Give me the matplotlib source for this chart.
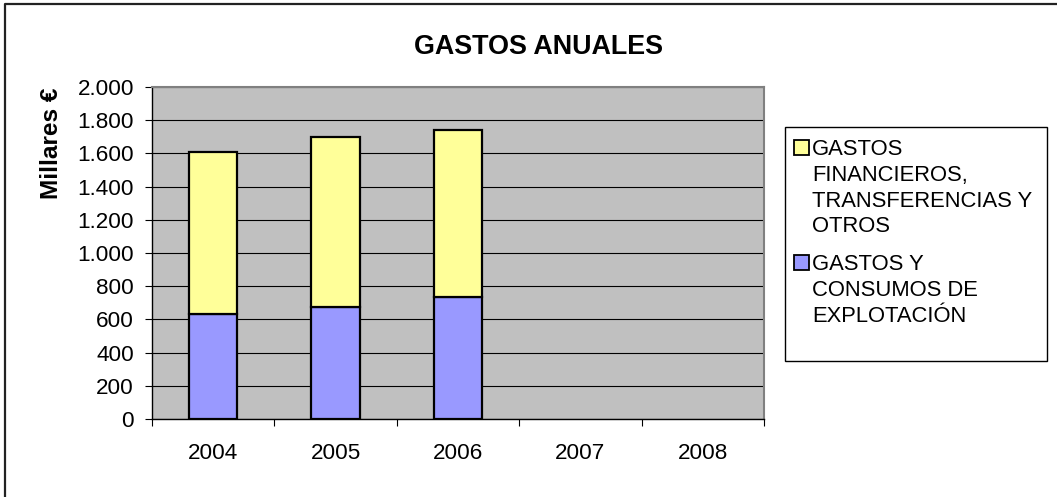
import matplotlib
matplotlib.use("Agg")
import matplotlib.pyplot as plt
from matplotlib.patches import Rectangle
from matplotlib.lines import Line2D

# ---- data ----
years = ["2004", "2005", "2006", "2007", "2008"]
explotacion = [631, 677, 735, 0, 0]          # GASTOS Y CONSUMOS DE EXPLOTACIÓN
financieros = [977, 1020, 1004, 0, 0]        # GASTOS FINANCIEROS, TRANSFERENCIAS Y OTROS
yticks = [0, 200, 400, 600, 800, 1000, 1200, 1400, 1600, 1800, 2000]
ytick_labels = ["0", "200", "400", "600", "800", "1.000", "1.200", "1.400", "1.600", "1.800", "2.000"]
series_labels = ["GASTOS\nFINANCIEROS,\nTRANSFERENCIAS Y\nOTROS",
                 "GASTOS Y\nCONSUMOS DE\nEXPLOTACIÓN"]

YELLOW = "#FFFF99"
BLUE = "#9999FF"
PLOT_BG = "#C0C0C0"

plt.rcParams.update({"font.family": ["Liberation Sans", "DejaVu Sans"]})

W, H = 1057, 497
fig = plt.figure(figsize=(W / 100, H / 100), dpi=100)
def fx(px): return px / W
def fy(py): return (H - py) / H   # py measured from top

ax = fig.add_axes([fx(152), fy(419), fx(764) - fx(152), fy(87) - fy(419)])
ax.set_facecolor(PLOT_BG)
x = list(range(len(years)))
# years without data (2007, 2008) get no bar at all
has = [i for i in x if explotacion[i] + financieros[i] > 0]
ax.bar(has, [explotacion[i] for i in has], width=0.395, color=BLUE, edgecolor="black",
       linewidth=1.6, zorder=3)
ax.bar(has, [financieros[i] for i in has], width=0.395, bottom=[explotacion[i] for i in has],
       color=YELLOW, edgecolor="black", linewidth=1.6, zorder=3)

ax.set_xlim(-0.5, len(years) - 0.5)
ax.set_ylim(0, 2000)
ax.set_yticks(yticks)
ax.set_yticklabels(ytick_labels)
ax.yaxis.grid(True, color="black", lw=0.8, zorder=1)
ax.set_axisbelow(True)

# category boundaries as major ticks, labels on minor ticks at centres
ax.set_xticks([i - 0.5 for i in range(len(years) + 1)])
ax.set_xticklabels([])
ax.set_xticks(x, minor=True)
ax.set_xticklabels(years, minor=True)
ax.tick_params(axis="x", which="major", direction="out", length=5, width=0.8, color="black")
ax.tick_params(axis="x", which="minor", length=0, pad=17, labelsize=16.2)
ax.tick_params(axis="y", direction="out", length=5, width=0.8, color="black", pad=8, labelsize=16.2)

for s in ("top", "right"):
    ax.spines[s].set_color("#808080"); ax.spines[s].set_linewidth(1.5)
for s in ("left", "bottom"):
    ax.spines[s].set_color("black"); ax.spines[s].set_linewidth(1.0)

# title and axis title
fig.text(fx(538), fy(54), "GASTOS ANUALES", ha="center", va="baseline",
         fontsize=19.4, fontweight="bold")
fig.text(fx(52), fy(143.5), "Millares €", rotation=90, ha="center", va="center",
         fontsize=17.6, fontweight="bold")

# legend drawn by hand (Excel-style, multi-line entries)
fig.add_artist(Rectangle((fx(785), fy(361)), fx(1047) - fx(785), fy(127) - fy(361),
                         transform=fig.transFigure, facecolor="white", edgecolor="black",
                         linewidth=1.0))
for lab, col, top in zip(series_labels, [YELLOW, BLUE], [139.5, 255]):
    fig.add_artist(Rectangle((fx(794), fy(top + 15)), fx(809) - fx(794), fy(top) - fy(top + 15),
                             transform=fig.transFigure, facecolor=col, edgecolor="black",
                             linewidth=1.3))
    fig.text(fx(812), fy(top - 0.5), lab, ha="left", va="top", fontsize=15.8, linespacing=1.3)

# outer chart border (only top and left visible in the reference)
fig.add_artist(Line2D([fx(5), fx(5), fx(1057)], [fy(497), fy(3.5), fy(3.5)],
                      transform=fig.transFigure, color="#222222", lw=1.6))

fig.savefig("out.png", dpi=100)
